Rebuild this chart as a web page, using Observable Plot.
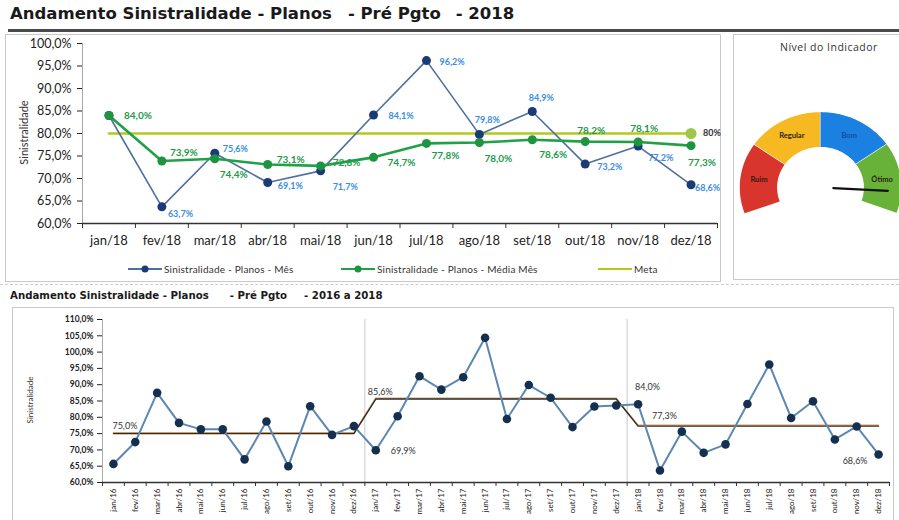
<!DOCTYPE html>
<html><head><meta charset="utf-8">
<script src="https://cdn.jsdelivr.net/npm/d3@7"></script>
<script src="https://cdn.jsdelivr.net/npm/@observablehq/plot@0.6"></script>
<style>
html,body{margin:0;padding:0;background:#fff;}
#page{position:relative;width:899px;height:520px;overflow:hidden;background:#fff;font-family:Lato,"Open Sans",sans-serif;color:#222}
.abs{position:absolute}
.title{font-family:"DejaVu Sans",sans-serif;font-weight:700;white-space:nowrap;color:#1a1a1a}
.box{position:absolute;border:1px solid #c9c9c9;box-sizing:border-box}
.legend{position:absolute;top:263px;font-size:10px;font-family:Lato,sans-serif;display:flex;align-items:center;gap:2px;color:#333;letter-spacing:0.2px}
.ytitle{position:absolute;transform:rotate(-90deg);transform-origin:center;white-space:nowrap;color:#333}
svg{overflow:visible}
</style></head>
<body><div id="page">
<div class="abs title" style="left:10px;top:4px;font-size:16.5px;">Andamento Sinistralidade - Planos<span style="margin-left:16px">- Pré Pgto</span><span style="margin-left:15px">- 2018</span></div>
<div class="abs" style="left:8px;top:29px;width:891px;height:3px;background:#4a4a4a"></div>
<div class="box" style="left:5px;top:34px;width:716px;height:248px"></div>
<div class="box" style="left:733px;top:34px;width:170px;height:246px"></div>
<div class="abs" style="left:0;top:284px;width:899px;border-top:1px dashed #ccc"></div>
<div class="abs" style="left:780px;top:40px;font-size:10.5px;letter-spacing:0.5px;font-family:'Open Sans',sans-serif;color:#333">Nível do Indicador</div>
<div class="ytitle" style="left:-17px;top:126px;font-size:11px;width:80px;text-align:center">Sinistralidade</div>
<div id="topChart" class="abs" style="left:5px;top:35px"></div>
<div id="gaugeChart" class="abs" style="left:733px;top:32px"></div>
<div id="legend"></div>
<div class="abs title" style="left:10px;top:290px;font-size:10.2px;">Andamento Sinistralidade - Planos<span style="margin-left:21px">- Pré Pgto</span><span style="margin-left:17px">- 2016 a 2018</span></div>
<div class="box" style="left:12px;top:307px;width:882px;height:230px"></div>
<div class="ytitle" style="left:-10px;top:395px;font-size:8px;width:80px;text-align:center">Sinistralidade</div>
<div id="bottomChart" class="abs" style="left:12px;top:310px"></div>
</div>
<script>
// ---------- data ----------
const months2018 = ["jan/18","fev/18","mar/18","abr/18","mai/18","jun/18","jul/18","ago/18","set/18","out/18","nov/18","dez/18"];
const mes2018 = [84.0,63.7,75.6,69.1,71.7,84.1,96.2,79.8,84.9,73.2,77.2,68.6];
const mediaMes2018 = [84.0,73.9,74.4,73.1,72.8,74.7,77.8,78.0,78.6,78.2,78.1,77.3];
const meta = 80;
const yTicksTop = [60,65,70,75,80,85,90,95,100];
const seriesNames = ["Sinistralidade - Planos - Mês","Sinistralidade - Planos - Média Mês","Meta"];

const gaugeLevels = ["Ruim","Regular","Bom","Ótimo"];
const gaugeBounds = [-110,-55,0,55,110];
const needleAngle = 93;

const monthAbbr = ["jan","fev","mar","abr","mai","jun","jul","ago","set","out","nov","dez"];
const years = ["16","17","18"];
const months36 = years.flatMap(y => monthAbbr.map(m => m + "/" + y));
const serie2016 = [65.7,72.4,87.5,78.3,76.3,76.3,67.1,78.7,65.0,83.4,74.6,77.3];
const serie2017 = [69.9,80.3,92.6,88.5,92.3,104.4,79.5,89.9,86.0,77.0,83.3,83.6];
const serie2018 = mes2018;
const mediaAno = [75.0,85.6,77.3];
const yTicksBottom = [60,65,70,75,80,85,90,95,100,105,110];

(function(){
// ---------- styles ----------
const C = {
  blueLine:"#4f6f9c", blueDot:"#1b3a78", blueLbl:"#3b8de0",
  greenLine:"#22a046", greenDot:"#1d9440", greenLbl:"#1e9a4b",
  meta:"#b3ca1d", metaDot:"#9fc64a",
  gauge:["#d8352c","#f6b921","#1a80e2","#69b23a"],
  botLine:"#5b87b3", botDot:"#15304f", mean:"#2b2b2b", meanShadow:"#e39a52"
};
const fmt = v => v.toFixed(1).replace(".", ",") + "%";

// ---------- top chart ----------
const topData = months2018.map((m,i) => ({i, m, mes: mes2018[i], media: mediaMes2018[i], meta}));
const bluePlace = [null,[6,7,"start"],[8,-4,"start"],[10,4,"start"],[12,16,"start"],[15,1,"start"],[13,2,"start"],[8,-14,"middle"],[9,-13,"middle"],[12,3,"start"],[10,12,"start"],[4,3,"start"]];
const greenPlace = [[15,0,"start"],[8,-8,"start"],[5,16,"start"],[9,-5,"start"],[12,-3,"start"],[14,5,"start"],[5,12,"start"],[5,16,"start"],[7,15,"start"],[6,-11,"middle"],[6,-13,"middle"],[-3,17,"start"]];

const topMarks = [
  Plot.ruleX([-0.5], {stroke:"#aaa"}),
  Plot.axisY({ticks: yTicksTop, tickFormat: fmt, tickSize: 5, tickPadding: 6, fontSize: 12.5, label: null, color:"#222"}),
  Plot.axisX({ticks: d3.range(13).map(i => i - 0.5), tickFormat: () => "", tickSize: 5, label: null, color:"#333"}),
  Plot.axisX({ticks: d3.range(12), tickFormat: i => months2018[i], tickSize: 0, tickPadding: 12, fontSize: 13, label: null, color:"#222"}),
  Plot.ruleY([60], {stroke:"#333", strokeWidth:1.5}),
  Plot.line(topData, {x:"i", y:"meta", stroke:C.meta, strokeWidth:2.5}),
  Plot.line(topData, {x:"i", y:"mes", stroke:C.blueLine, strokeWidth:1.6}),
  Plot.line(topData, {x:"i", y:"media", stroke:C.greenLine, strokeWidth:2.6}),
  Plot.dot(topData, {x:"i", y:"mes", r:4.5, fill:C.blueDot}),
  Plot.dot(topData, {x:"i", y:"media", r:4.5, fill:C.greenDot}),
  Plot.dot(topData.slice(-1), {x:"i", y:"meta", r:5.5, fill:C.metaDot}),
  Plot.text(topData.slice(-1), {x:"i", y:"meta", text: d => d.meta + "%", dx:12, textAnchor:"start", fontSize:9, fill:"#333", fontWeight:"bold"})
];
topData.forEach((d,i) => {
  const b = bluePlace[i];
  if (b) topMarks.push(Plot.text([d], {x:"i", y:"mes", text: d => fmt(d.mes), dx:b[0], dy:b[1], textAnchor:b[2], fontSize:9, fontWeight:"bold", fill:C.blueLbl}));
  const g = greenPlace[i];
  topMarks.push(Plot.text([d], {x:"i", y:"media", text: d => fmt(d.media), dx:g[0], dy:g[1], textAnchor:g[2], fontSize:10, fontWeight:"bold", fill:C.greenLbl}));
});

const topPlot = Plot.plot({
  width: 725, height: 225,
  marginTop: 8, marginBottom: 37, marginLeft: 77, marginRight: 13,
  x: {domain: [-0.5, 11.5], axis: null},
  y: {domain: [60, 100], axis: null},
  style: {fontFamily: "Lato, sans-serif", background: "transparent", overflow: "visible"},
  marks: topMarks
});
document.getElementById("topChart").appendChild(topPlot);

// ---------- legend ----------
const legend = document.getElementById("legend");
const legendItems = [
  {name: seriesNames[0], line: C.blueLine, dot: C.blueDot, left: 128},
  {name: seriesNames[1], line: C.greenLine, dot: C.greenDot, left: 341},
  {name: seriesNames[2], line: C.meta, dot: null, left: 598}
];
legendItems.forEach(it => {
  const div = document.createElement("div");
  div.className = "legend";
  div.style.left = it.left + "px";
  div.innerHTML = `<svg width="34" height="10"><line x1="0" y1="5" x2="34" y2="5" stroke="${it.line}" stroke-width="2"/>${it.dot ? `<circle cx="17" cy="5" r="3.5" fill="${it.dot}"/>` : ""}</svg><span>${it.name}</span>`;
  legend.appendChild(div);
});

// ---------- gauge ----------
const rad = a => a * Math.PI / 180;
const rOut = 76, rIn = 40;
const gaugePts = [];
gaugeLevels.forEach((lvl, k) => {
  const a0 = gaugeBounds[k], a1 = gaugeBounds[k+1];
  const n = 30;
  for (let j = 0; j <= n; j++) { const a = a0 + (a1 - a0) * j / n; gaugePts.push({lvl, x: rOut * Math.sin(rad(a)), y: rOut * Math.cos(rad(a))}); }
  for (let j = n; j >= 0; j--) { const a = a0 + (a1 - a0) * j / n; gaugePts.push({lvl, x: rIn * Math.sin(rad(a)), y: rIn * Math.cos(rad(a))}); }
});
const gaugeLabelData = gaugeLevels.map((lvl, k) => {
  const a = (gaugeBounds[k] + gaugeBounds[k+1]) / 2, r = (rOut + rIn) / 2;
  return {lvl, x: r * Math.sin(rad(a)), y: r * Math.cos(rad(a))};
});
const needle = [12, 63].map(r => ({x: r * Math.sin(rad(needleAngle)), y: r * Math.cos(rad(needleAngle))}));
const gaugeMarks = gaugeLevels.map((lvl, k) =>
  Plot.line(gaugePts.filter(p => p.lvl === lvl), {x:"x", y:"y", fill: C.gauge[k], stroke:"#fff", strokeWidth:1.2})
);
gaugeMarks.push(
  Plot.text(gaugeLabelData, {x:"x", y:"y", text:"lvl", fontSize:7.5, fontWeight:"bold", fill: d => d.lvl === "Bom" ? "#1b4a9a" : "#2a1f10"}),
  Plot.line(needle, {x:"x", y:"y", stroke:"#111", strokeWidth:2.2})
);
const gaugePlot = Plot.plot({
  width: 166, height: 248, margin: 0,
  x: {domain: [-81.3, 73.8], axis: null},
  y: {domain: [-93, 155], axis: null},
  style: {fontFamily: "Lato, sans-serif", background: "transparent"},
  marks: gaugeMarks
});
document.getElementById("gaugeChart").appendChild(gaugePlot);

// ---------- bottom chart ----------
const allVals = [...serie2016, ...serie2017, ...serie2018];
const botData = months36.map((m,i) => ({i, m, v: allVals[i], mean: mediaAno[Math.floor(i / 12)]}));
const botPlot = Plot.plot({
  width: 881, height: 210,
  marginTop: 9, marginBottom: 38, marginLeft: 90, marginRight: 4,
  x: {domain: [-0.5, 35.5], axis: null},
  y: {domain: [60, 110], axis: null},
  style: {fontFamily: "Lato, sans-serif", background: "transparent", overflow: "visible"},
  marks: [
    Plot.ruleX([-0.5], {stroke:"#aaa"}),
    Plot.ruleX([11.5, 23.5], {y1: 60, y2: 110, stroke:"#c8c8c8", strokeWidth:1}),
    Plot.axisY({ticks: yTicksBottom, tickFormat: fmt, tickSize: 5, tickPadding: 4, fontSize: 8.5, fontWeight:"bold", label: null, color:"#222"}),
    Plot.axisX({ticks: d3.range(37).map(i => i - 0.5), tickFormat: () => "", tickSize: 4, label: null, color:"#333"}),
    Plot.axisX({ticks: d3.range(36), tickFormat: i => months36[i], tickSize: 0, tickPadding: 6, tickRotate: -90, fontSize: 8, label: null, color:"#222"}),
    Plot.ruleY([60], {stroke:"#333", strokeWidth:1.5}),
    Plot.line(botData, {x:"i", y:"mean", stroke:C.meanShadow, strokeWidth:1.2, dy:-1}),
    Plot.line(botData, {x:"i", y:"mean", stroke:C.mean, strokeWidth:1.4}),
    Plot.line(botData, {x:"i", y:"v", stroke:C.botLine, strokeWidth:2}),
    Plot.dot(botData, {x:"i", y:"v", r:4.3, fill:C.botDot}),
    Plot.text([botData[0]], {x:"i", y:"mean", text: d => fmt(d.mean), dx:-1, dy:-7, textAnchor:"start", fontSize:9, fill:"#333"}),
    Plot.text([botData[12]], {x:"i", y:"mean", text: d => fmt(d.mean), dx:-8, dy:-7, textAnchor:"start", fontSize:9, fill:"#333"}),
    Plot.text([botData[12]], {x:"i", y:"v", text: d => fmt(d.v), dx:15, dy:1, textAnchor:"start", fontSize:9, fill:"#333"}),
    Plot.text([botData[24]], {x:"i", y:"v", text: d => fmt(d.v), dx:-3, dy:-17, textAnchor:"start", fontSize:9, fill:"#333"}),
    Plot.text([botData[24]], {x:"i", y:"mean", text: d => fmt(d.mean), dx:14, dy:-10, textAnchor:"start", fontSize:9, fill:"#333"}),
    Plot.text([botData[35]], {x:"i", y:"v", text: d => fmt(d.v), dx:-11, dy:7, textAnchor:"end", fontSize:9, fill:"#333"})
  ]
});
document.getElementById("bottomChart").appendChild(botPlot);
})();
</script>
</body></html>
